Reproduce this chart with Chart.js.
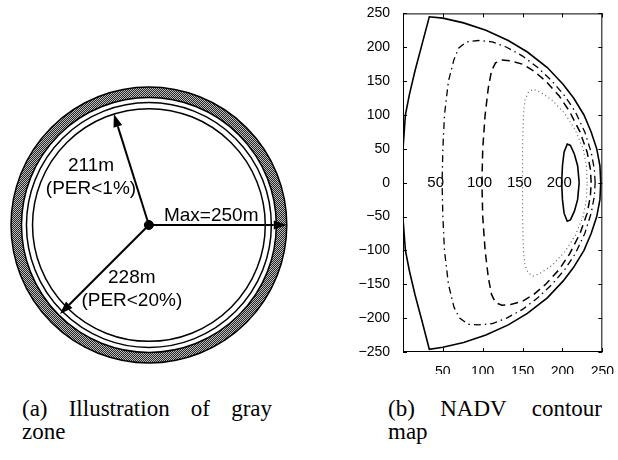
<!DOCTYPE html>
<html>
<head>
<meta charset="utf-8">
<script src="https://cdn.jsdelivr.net/npm/chart.js@4"></script>
<style>
body { margin:0; width:618px; height:460px; background:#fff; position:relative; overflow:hidden; }
#grayZone { position:absolute; left:0; top:75px; }
#contour { position:absolute; left:340px; top:0; }
.cap { position:absolute; top:397px; font-family:"Liberation Serif","Times New Roman",serif; font-size:23px; line-height:23px; text-align:justify; text-align-last:left; color:#000; }
</style>
</head>
<body>
<canvas id="grayZone" width="300" height="300"></canvas>
<canvas id="contour" width="278" height="374"></canvas>
<div class="cap" style="left:22px;width:250px">(a) Illustration of gray zone</div>
<div class="cap" style="left:388px;width:214px">(b) NADV contour map</div>
<script>
// ---- (a) gray zone, radii in metres
var circleRadii = [211, 222];
var grayZone = [231, 250];
var arrowLengths = [250, 211, 228];
var arrowAngles = [0, 107.5, 225];
var arrowText = [['Max=250m'], ['211m', '(PER<1%)'], ['228m', '(PER<20%)']];
var arrowTextAt = [[113, 17], [-105, 108], [-31, -96]];

// ---- (b) NADV contours
var xTicks = [0, 50, 100, 150, 200, 250];
var yTicks = [-250, -200, -150, -100, -50, 0, 50, 100, 150, 200, 250];
var contourLevels = [50, 100, 150, 200];
var levelLabelX = [41, 96, 146, 196];

var edgeX = [0, 3, 8, 15, 24, 33, 50, 76, 104, 132, 156, 181, 201, 214, 227, 236, 243, 247, 248, 247, 243, 236, 227, 214, 201, 181, 156, 132, 104, 76, 50, 33, 24, 15, 8, 3, 0, -3, 0];
var edgeY = [50, 100, 130, 165, 205, 245, 243, 236, 225, 210, 193, 170, 145, 125, 100, 75, 50, 25, 0, -25, -50, -75, -100, -125, -145, -170, -193, -210, -225, -236, -243, -246, -205, -165, -130, -100, -53, 0, 50];

var nadv50X = [241, 240, 236, 228, 216, 203, 187, 169, 150, 130, 112, 95, 80, 70, 64, 57, 52, 50, 49, 50, 52, 57, 64, 71, 82, 95, 112, 130, 150, 169, 187, 203, 216, 228, 236, 240, 241];
var nadv50Y = [0, 20, 45, 75, 105, 128, 150, 170, 187, 200, 208, 210, 208, 199, 182, 150, 100, 50, 0, -50, -100, -150, -184, -200, -209, -210, -208, -200, -187, -170, -150, -128, -105, -75, -45, -20, 0];

var nadv100X = [236, 235, 231, 222, 209, 196, 179, 164, 150, 135, 124, 116, 111, 107, 103, 100, 99, 100, 103, 107, 111, 116, 124, 135, 150, 164, 179, 196, 209, 222, 231, 235, 236];
var nadv100Y = [0, 20, 45, 75, 105, 128, 150, 165, 175, 180, 181, 177, 165, 140, 100, 50, 0, -50, -100, -140, -165, -177, -181, -180, -175, -165, -150, -128, -105, -75, -45, -20, 0];

var nadv150X = [231, 230, 226, 216, 203, 187, 172, 163, 157, 153, 151, 150, 150, 150, 151, 153, 157, 163, 172, 187, 203, 216, 226, 230, 231];
var nadv150Y = [0, 25, 50, 78, 102, 122, 134, 138, 133, 122, 100, 50, 0, -50, -100, -122, -133, -138, -134, -122, -102, -78, -50, -25, 0];

var nadv200X = [221, 219, 215, 210, 206, 202, 200, 199, 200, 202, 206, 210, 215, 219, 221];
var nadv200Y = [0, 25, 42, 55, 57, 45, 25, 0, -25, -45, -57, -55, -42, -25, 0];

function pts(xs, ys) { return xs.map(function (x, i) { return { x: x, y: ys[i] }; }); }
var sans = '"Liberation Sans", Arial, sans-serif';

// hatched fill for the gray zone
var pat = document.createElement('canvas');
pat.width = 2; pat.height = 2;
var pc = pat.getContext('2d');
pc.fillStyle = '#bdbdbd'; pc.fillRect(0, 0, 2, 2);
pc.fillStyle = '#262626'; pc.fillRect(0, 0, 1, 1); pc.fillRect(1, 1, 1, 1);

var zonePlugin = {
    id: 'zone',
    beforeDatasetsDraw: function (chart) {
        var ctx = chart.ctx, xs = chart.scales.x, ys = chart.scales.y;
        var cx = xs.getPixelForValue(0), cy = ys.getPixelForValue(0);
        var r = function (v) { return xs.getPixelForValue(v) - cx; };
        ctx.save();
        ctx.beginPath();
        ctx.arc(cx, cy, r(grayZone[1]), 0, Math.PI * 2);
        ctx.arc(cx, cy, r(grayZone[0]), 0, Math.PI * 2, true);
        ctx.fillStyle = ctx.createPattern(pat, 'repeat');
        ctx.fill();
        ctx.strokeStyle = '#000';
        ctx.lineWidth = 1.5;
        grayZone.concat(circleRadii).forEach(function (v) {
            ctx.beginPath();
            ctx.arc(cx, cy, r(v), 0, Math.PI * 2);
            ctx.stroke();
        });
        // arrows
        ctx.lineWidth = 2;
        ctx.fillStyle = '#000';
        arrowLengths.forEach(function (len, i) {
            var a = arrowAngles[i] * Math.PI / 180;
            var ex = xs.getPixelForValue(len * Math.cos(a));
            var ey = ys.getPixelForValue(len * Math.sin(a));
            var ang = Math.atan2(ey - cy, ex - cx);
            var hl = 13, hw = 4.5;
            var bx = ex - hl * Math.cos(ang), by = ey - hl * Math.sin(ang);
            ctx.beginPath();
            ctx.moveTo(cx, cy);
            ctx.lineTo(bx, by);
            ctx.stroke();
            ctx.beginPath();
            ctx.moveTo(ex, ey);
            ctx.lineTo(bx - hw * Math.sin(ang), by + hw * Math.cos(ang));
            ctx.lineTo(bx + hw * Math.sin(ang), by - hw * Math.cos(ang));
            ctx.closePath();
            ctx.fill();
            // label
            ctx.font = '19px ' + sans;
            ctx.textAlign = 'center';
            ctx.textBaseline = 'middle';
            var tx = xs.getPixelForValue(arrowTextAt[i][0]);
            var ty = ys.getPixelForValue(arrowTextAt[i][1]);
            arrowText[i].forEach(function (s, k) { ctx.fillText(s, tx, ty + k * 23); });
        });
        ctx.restore();
    }
};

new Chart(document.getElementById('grayZone'), {
    type: 'scatter',
    data: {
        datasets: [{
            data: [{ x: 0, y: 0 }],
            pointRadius: 4.5,
            pointBackgroundColor: '#000',
            pointBorderColor: '#000'
        }]
    },
    options: {
        responsive: false,
        animation: false,
        layout: { padding: 0 },
        scales: {
            x: { display: false, min: -260, max: 264 },
            y: { display: false, min: -262, max: 262 }
        },
        plugins: { legend: { display: false }, tooltip: { enabled: false } }
    },
    plugins: [zonePlugin]
});

// ---- (b)
var boxPlugin = {
    id: 'box',
    afterDraw: function (chart) {
        var ctx = chart.ctx, a = chart.chartArea, xs = chart.scales.x, ys = chart.scales.y;
        ctx.save();
        ctx.strokeStyle = '#000';
        ctx.lineWidth = 1;
        ctx.strokeRect(a.left + 0.5, a.top + 0.5, a.right - a.left - 1, a.bottom - a.top - 1);
        ctx.beginPath();
        xTicks.forEach(function (v) {
            var x = Math.round(xs.getPixelForValue(v)) + 0.5;
            ctx.moveTo(x, a.top); ctx.lineTo(x, a.top + 4);
            ctx.moveTo(x, a.bottom); ctx.lineTo(x, a.bottom - 4);
        });
        yTicks.forEach(function (v) {
            var y = Math.round(ys.getPixelForValue(v)) + 0.5;
            ctx.moveTo(a.left, y); ctx.lineTo(a.left + 4, y);
            ctx.moveTo(a.right, y); ctx.lineTo(a.right - 4, y);
        });
        ctx.stroke();
        // contour level labels
        ctx.fillStyle = '#000';
        ctx.font = '15px ' + sans;
        ctx.textAlign = 'center';
        ctx.textBaseline = 'middle';
        contourLevels.forEach(function (lv, i) {
            ctx.fillText(String(lv), xs.getPixelForValue(levelLabelX[i]), ys.getPixelForValue(0));
        });
        ctx.restore();
    }
};

function curve(xs, ys, dash, width, color) {
    return {
        data: pts(xs, ys),
        showLine: true,
        borderColor: color || '#000',
        borderWidth: width,
        borderDash: dash,
        pointRadius: 0,
        fill: false,
        tension: 0
    };
}

new Chart(document.getElementById('contour'), {
    type: 'scatter',
    data: {
        datasets: [
            curve(edgeX, edgeY, [], 1.6),
            curve(nadv50X, nadv50Y, [7, 4, 1.5, 4], 1.3),
            curve(nadv100X, nadv100Y, [8, 5], 1.5),
            curve(nadv150X, nadv150Y, [1, 3], 1.1, '#555'),
            curve(nadv200X, nadv200Y, [], 1.6)
        ]
    },
    options: {
        responsive: false,
        animation: false,
        layout: { padding: { left: 0, top: 8, right: 10, bottom: 0 } },
        scales: {
            x: {
                type: 'linear', min: 0, max: 250,
                grid: { display: false }, border: { display: false },
                afterFit: function (s) { s.height = 22; },
                afterBuildTicks: function (s) { s.ticks = xTicks.map(function (v) { return { value: v }; }); },
                ticks: {
                    autoSkip: false, maxRotation: 0, padding: 4, color: '#000',
                    font: { family: sans, size: 14 },
                    callback: function (v) { return v === 0 ? '' : v; }
                }
            },
            y: {
                type: 'linear', min: -250, max: 250,
                grid: { display: false }, border: { display: false },
                afterFit: function (s) { s.width = 63; },
                afterBuildTicks: function (s) { s.ticks = yTicks.map(function (v) { return { value: v }; }); },
                ticks: {
                    autoSkip: false, padding: 5, color: '#000',
                    font: { family: sans, size: 14 },
                    callback: function (v) { return v < 0 ? '\u2212' + Math.abs(v) : String(v); }
                }
            }
        },
        plugins: { legend: { display: false }, tooltip: { enabled: false } }
    },
    plugins: [boxPlugin]
});
</script>
</body>
</html>
